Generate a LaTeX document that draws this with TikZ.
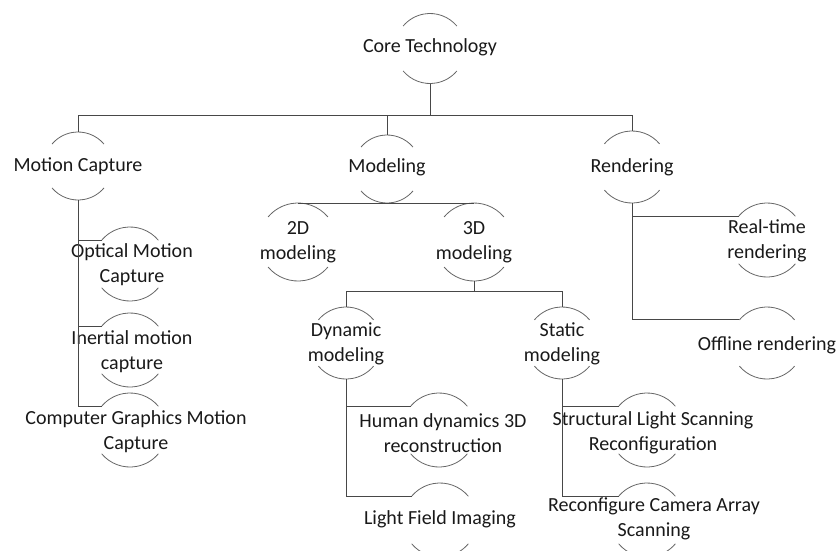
\documentclass[tikz,border=0pt]{standalone}
\usepackage{fontspec}
\setmainfont{Carlito}
\begin{document}
\begin{tikzpicture}[x=1pt,y=-1pt,
  cnode/.style={circle,inner sep=0pt,outer sep=0pt,minimum size=#1},
  lbl/.style={align=center,inner sep=0pt,font=\fontsize{20}{25}\selectfont,text=black!90},
  conn/.style={draw=black!72,line width=0.9pt},
  arcline/.style={draw=black!60,line width=0.8pt}]
\useasboundingbox (0,0) rectangle (840,550);
% circle nodes (invisible carriers)
\node[cnode=70pt] (core) at (430,48.5) {};
\node[cnode=68pt] (mc)   at (78,166) {};
\node[cnode=68pt] (mod)  at (387,169) {};
\node[cnode=72pt] (ren)  at (632,167) {};
\node[cnode=78pt] (m2d)  at (298,242) {};
\node[cnode=78pt] (m3d)  at (474,242) {};
\node[cnode=72pt] (dyn)  at (346,343) {};
\node[cnode=72pt] (sta)  at (562,343) {};
\node[cnode=74pt] (rt)   at (767,240) {};
\node[cnode=72pt] (off)  at (767,343) {};
\node[cnode=74pt] (opt)  at (130,264) {};
\node[cnode=74pt] (ine)  at (130,350) {};
\node[cnode=74pt] (cg)   at (130,430) {};
\node[cnode=74pt] (hum)  at (439,430) {};
\node[cnode=74pt] (lf)   at (440,520) {};
\node[cnode=74pt] (str)  at (647,430) {};
\node[cnode=74pt] (rec)  at (647,520) {};
% arcs
\foreach \n/\r in {core/35,mc/34,mod/34,ren/36,m2d/39,m3d/39,dyn/36,sta/36,rt/37,off/36,opt/37,ine/37,cg/37,hum/37,lf/37,str/37,rec/37}{
  \draw[arcline] (\n.40) arc[start angle=40,end angle=140,radius=\r pt];
  \draw[arcline] (\n.220) arc[start angle=220,end angle=320,radius=\r pt];
}
% labels
\node[lbl] (core-t) at ([yshift=1.5pt]core) {Core Technology};
\node[lbl] (mc-t)   at (mc)  {Motion Capture};
\node[lbl] (mod-t)  at ([yshift=2pt]mod) {Modeling};
\node[lbl] (ren-t)  at (ren) {Rendering};
\node[lbl] (m2d-t)  at (m2d) {2D\\modeling};
\node[lbl] (m3d-t)  at (m3d) {3D\\modeling};
\node[lbl] (dyn-t)  at ([yshift=-1pt]dyn) {Dynamic\\modeling};
\node[lbl] (sta-t)  at ([yshift=-1pt]sta) {Static\\modeling};
\node[lbl] (rt-t)   at ([yshift=-1pt]rt) {Real-time\\rendering};
\node[lbl] (off-t)  at ([yshift=-2pt]off) {Offline rendering};
\node[lbl] (opt-t)  at ([xshift=2pt,yshift=-1pt]opt) {Optical Motion\\Capture};
\node[lbl] (ine-t)  at ([xshift=2pt,yshift=-2pt]ine) {Inertial motion\\capture};
\node[lbl] (cg-t)   at ([xshift=6pt,yshift=-2pt]cg) {Computer Graphics Motion\\Capture};
\node[lbl] (hum-t)  at ([xshift=4pt,yshift=-3pt]hum) {Human dynamics 3D\\reconstruction};
\node[lbl] (lf-t)   at ([xshift=0pt,yshift=1pt]lf) {Light Field Imaging};
\node[lbl] (str-t)  at ([xshift=6pt,yshift=-3pt]str) {Structural Light Scanning\\Reconfiguration};
\node[lbl] (rec-t)  at ([xshift=7pt,yshift=1pt]rec) {Reconfigure Camera Array\\Scanning};
% connectors
\draw[conn] (core.south) -- ++(0,32) -| (mc.north);
\draw[conn] (core.south) -- ++(0,32) -| (mod.north);
\draw[conn] (core.south) -- ++(0,32) -| (ren.north);
\draw[conn] (mod.south) -- (m2d.north);
\draw[conn] (mod.south) -- (m3d.north);
\draw[conn] (m3d.south) -- ++(0,10) -| (dyn.north);
\draw[conn] (m3d.south) -- ++(0,10) -| (sta.north);
\draw[conn] (mc.south) |- (opt.140);
\draw[conn] (mc.south) |- (ine.140);
\draw[conn] (mc.south) |- (cg.140);
\draw[conn] (ren.south) |- (rt.140);
\draw[conn] (ren.south) |- (off.140);
\draw[conn] (dyn.south) |- (hum.140);
\draw[conn] (dyn.south) |- (lf.140);
\draw[conn] (sta.south) |- (str.140);
\draw[conn] (sta.south) |- (rec.140);
\end{tikzpicture}
\end{document}
